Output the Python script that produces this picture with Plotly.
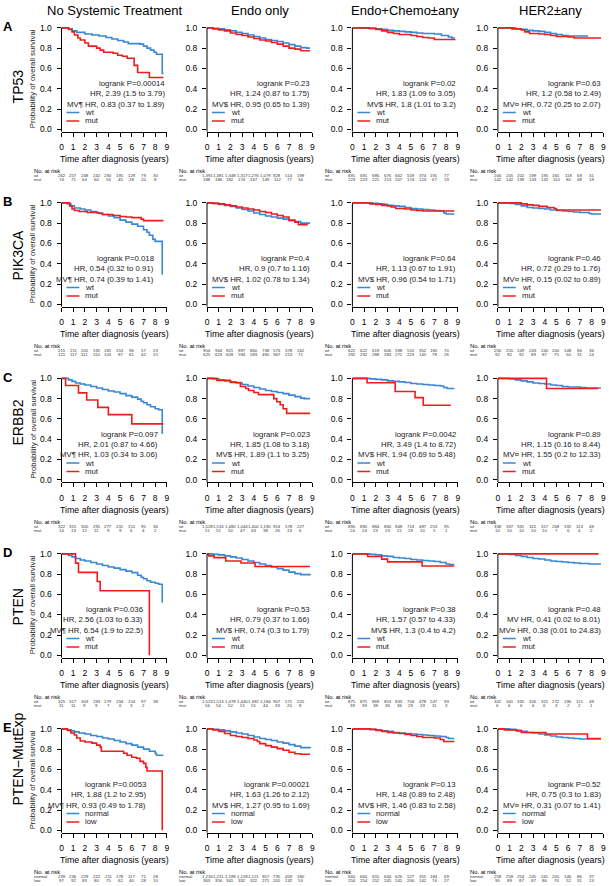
import plotly.graph_objects as go

FONT = "Liberation Sans, Arial, Helvetica, sans-serif"
BLUE = "#3a87d4"
RED = "#f01c1c"

COL_TITLES = ["No Systemic Treatment", "Endo only", "Endo+Chemo±any", "HER2±any"]
ROW_LABELS = ["TP53", "PIK3CA", "ERBB2", "PTEN", "PTEN−MutExp"]
PANEL_LETTERS = ["A", "B", "C", "D", "E"]
GROUP_NAMES = [["wt", "mut"], ["wt", "mut"], ["wt", "mut"], ["wt", "mut"], ["normal", "low"]]
X_TICKS = [0, 1, 2, 3, 4, 5, 6, 7, 8, 9]
Y_TICKS = [0.0, 0.2, 0.4, 0.6, 0.8, 1.0]
Y_TICK_TEXT = ["0.0", "0.2", "0.4", "0.6", "0.8", "1.0"]
RISK_TIMES = [0, 1, 2, 3, 4, 5, 6, 7, 8]

# ---------------- Kaplan-Meier curves (time, survival) ----------------
# Row A: TP53
A1_WT = [(0, 1), (0.6, 0.99), (0.9, 0.97), (1.3, 0.955), (2, 0.94), (2.6, 0.93), (3.2, 0.92), (3.8, 0.905),
         (4.3, 0.89), (4.8, 0.875), (5.3, 0.86), (5.7, 0.845), (6.7, 0.84), (7.0, 0.82), (7.3, 0.80), (7.6, 0.78),
         (7.9, 0.76), (8.1, 0.74), (8.6, 0.55), (8.7, 0.55)]
A1_MUT = [(0, 1), (0.6, 0.985), (0.9, 0.96), (1.1, 0.93), (1.4, 0.90), (1.6, 0.88), (2.0, 0.85), (2.3, 0.82),
          (3.0, 0.80), (3.3, 0.78), (3.6, 0.76), (4.4, 0.75), (4.8, 0.73), (5.2, 0.72), (5.6, 0.70), (6.2, 0.63),
          (6.5, 0.56), (7.5, 0.51), (8.7, 0.51)]
A2_WT = [(0, 1), (0.5, 0.995), (1, 0.99), (1.5, 0.98), (2, 0.97), (2.5, 0.955), (3, 0.945), (3.5, 0.93), (4, 0.915),
         (4.5, 0.90), (5, 0.885), (5.5, 0.875), (6, 0.865), (6.5, 0.85), (7, 0.835), (7.5, 0.82), (8, 0.805),
         (8.5, 0.80), (8.8, 0.80)]
A2_MUT = [(0, 1), (0.5, 0.99), (1, 0.98), (1.5, 0.97), (2, 0.95), (2.5, 0.935), (3, 0.925), (3.5, 0.91), (4, 0.895),
          (4.5, 0.88), (5, 0.87), (5.5, 0.855), (6, 0.84), (6.5, 0.82), (7, 0.80), (7.5, 0.79), (8, 0.775), (8.8, 0.775)]
A3_WT = [(0, 1), (1.5, 0.995), (2, 0.99), (2.5, 0.985), (3, 0.975), (3.5, 0.97), (4, 0.965), (4.5, 0.96),
         (5, 0.955), (5.5, 0.95), (6, 0.945), (7, 0.94), (7.6, 0.925), (8.2, 0.91), (8.5, 0.90), (8.75, 0.90)]
A3_MUT = [(0, 1), (1.4, 0.995), (2, 0.985), (2.5, 0.97), (3, 0.955), (3.5, 0.945), (4, 0.935), (5, 0.925),
          (5.5, 0.915), (6, 0.905), (6.5, 0.90), (7, 0.885), (8.8, 0.885)]
A4_WT = [(0, 1), (1.5, 0.99), (2, 0.985), (2.5, 0.975), (3, 0.97), (3.5, 0.965), (4, 0.955), (4.5, 0.945),
         (5, 0.935), (5.5, 0.925), (6, 0.92), (7.7, 0.92)]
A4_MUT = [(0, 1), (1.2, 0.99), (2, 0.98), (2.3, 0.96), (2.7, 0.945), (3.5, 0.94), (4, 0.935), (4.5, 0.925),
          (5, 0.915), (6, 0.91), (6.5, 0.90), (8.8, 0.90)]

# Row B: PIK3CA
B1_WT = [(0, 1), (0.5, 0.99), (0.8, 0.97), (1.1, 0.95), (1.6, 0.94), (2.0, 0.93), (2.5, 0.915), (3.0, 0.90),
         (3.5, 0.885), (4.0, 0.87), (4.5, 0.855), (5.0, 0.83), (5.5, 0.81), (6.0, 0.79), (6.5, 0.77), (7.0, 0.735),
         (7.3, 0.71), (7.5, 0.68), (7.8, 0.64), (8.0, 0.62), (8.6, 0.30), (8.65, 0.30)]
B1_MUT = [(0, 1), (0.7, 0.97), (0.9, 0.94), (1.1, 0.925), (1.5, 0.915), (2.2, 0.905), (3.2, 0.895), (3.5, 0.885),
          (4.4, 0.875), (5.0, 0.865), (5.5, 0.86), (6.0, 0.855), (6.8, 0.84), (7.0, 0.825), (8.7, 0.825)]
B2_WT = [(0, 1), (0.5, 0.995), (1, 0.985), (1.5, 0.975), (2, 0.965), (2.5, 0.95), (3, 0.935), (3.5, 0.92), (4, 0.90),
         (4.5, 0.885), (5, 0.87), (5.5, 0.86), (6, 0.85), (6.5, 0.84), (7, 0.825), (7.5, 0.815), (8, 0.80), (8.8, 0.80)]
B2_MUT = [(0, 1), (0.5, 0.995), (1, 0.99), (1.5, 0.98), (2, 0.97), (2.5, 0.96), (3, 0.95), (3.5, 0.94), (4, 0.93),
          (4.5, 0.915), (5, 0.905), (5.5, 0.89), (6, 0.875), (6.5, 0.86), (7, 0.83), (7.5, 0.81), (7.8, 0.785),
          (8.6, 0.785)]
B3_WT = [(0, 1), (1.7, 0.995), (2.2, 0.99), (2.7, 0.985), (3.0, 0.975), (3.5, 0.97), (4, 0.965), (4.5, 0.955),
         (5, 0.945), (5.5, 0.94), (6, 0.935), (6.5, 0.93), (7, 0.925), (7.5, 0.92), (7.8, 0.90), (8.0, 0.89), (8.7, 0.89)]
B3_MUT = [(0, 1), (1.5, 0.99), (2.0, 0.985), (2.5, 0.975), (3.0, 0.97), (3.3, 0.96), (3.7, 0.945), (4.5, 0.94),
          (5, 0.93), (5.5, 0.925), (6, 0.92), (8.7, 0.92)]
B4_WT = [(0, 1), (1.0, 0.995), (1.5, 0.985), (2, 0.97), (2.5, 0.955), (3, 0.95), (3.5, 0.945), (4, 0.94),
         (4.5, 0.93), (5, 0.925), (5.5, 0.92), (6, 0.915), (6.5, 0.91), (7, 0.905), (7.8, 0.895), (8.0, 0.89),
         (8.8, 0.89)]
B4_MUT = [(0, 1), (2, 0.99), (2.5, 0.98), (3, 0.975), (3.5, 0.965), (4.2, 0.955), (4.8, 0.945), (5.0, 0.93),
          (8.8, 0.93)]

# Row C: ERBB2
C1_WT = [(0, 1), (0.6, 0.985), (0.9, 0.97), (1.2, 0.955), (1.6, 0.945), (2, 0.935), (2.5, 0.92), (3, 0.905),
         (3.5, 0.89), (4, 0.875), (4.5, 0.865), (5, 0.85), (5.5, 0.83), (6, 0.815), (6.5, 0.795), (6.8, 0.775),
         (7, 0.76), (7.3, 0.74), (7.6, 0.72), (8, 0.70), (8.3, 0.69), (8.6, 0.46), (8.65, 0.46)]
C1_MUT = [(0, 1), (0.35, 0.929), (1.45, 0.857), (2.15, 0.786), (3.1, 0.714), (4.0, 0.643), (6.0, 0.551),
          (8.7, 0.551)]
C2_WT = [(0, 1), (0.5, 0.995), (1, 0.985), (1.5, 0.975), (2, 0.965), (2.5, 0.955), (3, 0.94), (3.5, 0.925),
         (4, 0.91), (4.5, 0.895), (5, 0.88), (5.5, 0.87), (6, 0.86), (6.5, 0.85), (7, 0.835), (7.5, 0.82),
         (8, 0.805), (8.3, 0.80), (8.8, 0.80)]
C2_MUT = [(0, 1), (0.85, 0.98), (2.0, 0.96), (2.85, 0.92), (3.3, 0.90), (3.55, 0.88), (4.0, 0.86), (4.4, 0.84),
          (5.7, 0.80), (5.95, 0.77), (6.25, 0.74), (6.5, 0.70), (6.8, 0.655), (8.8, 0.655)]
C3_WT = [(0, 1), (1.5, 0.995), (2, 0.99), (2.5, 0.985), (3, 0.975), (3.5, 0.97), (4, 0.965), (4.5, 0.96),
         (5, 0.95), (5.5, 0.945), (6, 0.94), (6.5, 0.935), (7, 0.93), (7.5, 0.925), (7.8, 0.91), (8.1, 0.90),
         (8.7, 0.90)]
C3_MUT = [(0, 1), (1.25, 0.957), (3.65, 0.87), (5.35, 0.81), (6.05, 0.735), (8.4, 0.735)]
C4_WT = [(0, 1), (1, 0.995), (1.5, 0.985), (2, 0.975), (2.5, 0.965), (3, 0.955), (3.5, 0.95), (4, 0.945),
         (4.5, 0.935), (5, 0.93), (5.5, 0.92), (6, 0.915), (7, 0.91), (7.5, 0.905), (8.8, 0.905)]
C4_MUT = [(0, 1), (4.15, 0.90), (8.55, 0.90)]

# Row D: PTEN
D1_WT = [(0, 1), (0.6, 0.985), (0.9, 0.97), (1.2, 0.955), (1.6, 0.94), (2, 0.93), (2.5, 0.915), (3, 0.90),
         (3.5, 0.885), (4, 0.87), (4.5, 0.86), (5, 0.845), (5.5, 0.83), (6, 0.815), (6.5, 0.79), (6.8, 0.77),
         (7, 0.755), (7.3, 0.735), (7.6, 0.72), (8, 0.71), (8.3, 0.70), (8.6, 0.525), (8.65, 0.525)]
D1_MUT = [(0, 1), (1.2, 0.909), (1.45, 0.818), (3.05, 0.727), (3.3, 0.636), (7.5, 0.0)]
D2_WT = [(0, 1), (0.5, 0.995), (1, 0.99), (1.5, 0.98), (2, 0.97), (2.5, 0.96), (3, 0.945), (3.5, 0.93),
         (4, 0.915), (4.5, 0.90), (5, 0.885), (5.5, 0.87), (6, 0.855), (6.5, 0.84), (7, 0.82), (7.5, 0.805),
         (8, 0.795), (8.8, 0.79)]
D2_MUT = [(0, 1), (0.15, 0.98), (0.6, 0.963), (1.6, 0.93), (2.9, 0.91), (4.1, 0.875), (8.8, 0.875)]
D3_WT = [(0, 1), (1.5, 0.995), (2, 0.99), (2.5, 0.98), (3, 0.975), (3.5, 0.965), (4, 0.96), (4.5, 0.955),
         (5, 0.945), (5.5, 0.94), (6, 0.935), (6.5, 0.93), (7, 0.925), (7.5, 0.915), (8, 0.90), (8.3, 0.895),
         (8.7, 0.895)]
D3_MUT = [(0, 1), (1.3, 0.974), (2.5, 0.948), (3.0, 0.921), (5.95, 0.88), (8.7, 0.88)]
D4_WT = [(0, 1), (1, 0.995), (1.5, 0.985), (2, 0.975), (2.5, 0.965), (3, 0.955), (3.5, 0.95), (4, 0.94),
         (4.5, 0.93), (5, 0.925), (5.5, 0.92), (6, 0.915), (6.5, 0.91), (7, 0.905), (7.8, 0.90), (8.8, 0.90)]
D4_MUT = [(0, 1), (8.6, 1.0)]

# Row E: PTEN-MutExp
E1_NORMAL = [(0, 1), (0.5, 0.99), (0.8, 0.98), (1.1, 0.97), (1.5, 0.96), (2, 0.95), (2.5, 0.935), (3, 0.925),
             (3.5, 0.91), (4, 0.90), (4.5, 0.885), (5, 0.87), (5.5, 0.855), (6, 0.84), (6.5, 0.82), (7, 0.80),
             (7.5, 0.78), (8.0, 0.76), (8.1, 0.74), (8.7, 0.74)]
E1_LOW = [(0, 1), (0.5, 0.985), (0.8, 0.96), (1.1, 0.94), (1.3, 0.91), (1.6, 0.88), (2.0, 0.87), (2.6, 0.86),
          (3.0, 0.84), (3.3, 0.82), (3.4, 0.78), (5.0, 0.78), (5.3, 0.76), (5.6, 0.74), (6.0, 0.72), (6.4, 0.71),
          (6.7, 0.68), (7.0, 0.66), (7.2, 0.62), (7.3, 0.585), (8.6, 0.0)]
E2_NORMAL = [(0, 1), (0.5, 0.995), (1, 0.99), (1.5, 0.98), (2, 0.97), (2.5, 0.96), (3, 0.95), (3.5, 0.935),
             (4, 0.92), (4.5, 0.905), (5, 0.895), (5.5, 0.885), (6, 0.87), (6.5, 0.86), (7, 0.845), (7.5, 0.83),
             (8, 0.815), (8.8, 0.81)]
E2_LOW = [(0, 1), (0.5, 0.99), (1, 0.975), (1.5, 0.955), (2, 0.935), (2.5, 0.925), (3, 0.915), (3.5, 0.905),
          (4, 0.89), (4.3, 0.875), (4.5, 0.855), (5, 0.835), (5.5, 0.82), (6, 0.805), (6.5, 0.79), (7, 0.77),
          (7.5, 0.755), (8, 0.75), (8.8, 0.75)]
E3_NORMAL = [(0, 1), (1.5, 0.995), (2, 0.99), (2.5, 0.98), (3, 0.975), (3.5, 0.965), (4, 0.96), (4.5, 0.955),
             (5, 0.95), (5.5, 0.945), (6, 0.94), (6.5, 0.935), (7, 0.93), (7.5, 0.925), (8, 0.915), (8.2, 0.905),
             (8.7, 0.905)]
E3_LOW = [(0, 1), (1.5, 0.995), (2, 0.985), (2.5, 0.975), (3, 0.965), (3.5, 0.96), (4, 0.955), (4.5, 0.945),
          (5, 0.935), (5.5, 0.925), (6, 0.915), (7, 0.91), (7.5, 0.895), (7.8, 0.875), (8.7, 0.875)]
E4_NORMAL = [(0, 1), (1, 0.995), (1.5, 0.985), (2, 0.975), (2.5, 0.965), (3, 0.96), (3.5, 0.95), (4, 0.94),
             (4.5, 0.93), (5, 0.92), (5.5, 0.915), (6, 0.91), (6.5, 0.905), (7, 0.90), (8.8, 0.90)]
E4_LOW = [(0, 1), (0.55, 0.99), (1.6, 0.98), (2.0, 0.965), (4.1, 0.95), (7.65, 0.905), (8.8, 0.905)]

# ---------------- Numbers at risk ----------------
A1_N = ([262, 257, 248, 242, 230, 195, 129, 79, 30], [74, 71, 64, 60, 56, 45, 28, 20, 8])
A2_N = ([1391, 1381, 1348, 1317, 1276, 1079, 828, 514, 199], [188, 186, 182, 174, 167, 149, 112, 77, 34])
A3_N = ([691, 691, 686, 676, 662, 559, 374, 191, 77], [223, 223, 221, 213, 207, 174, 123, 67, 19])
A4_N = ([206, 205, 202, 199, 195, 165, 118, 69, 31], [142, 142, 139, 133, 132, 110, 80, 48, 19])
B1_N = ([215, 211, 201, 192, 181, 153, 96, 57, 23], [121, 117, 111, 110, 105, 87, 61, 42, 15])
B2_N = ([954, 944, 921, 897, 860, 738, 573, 378, 162], [625, 623, 609, 594, 583, 490, 367, 213, 71])
B3_N = ([622, 622, 619, 606, 598, 510, 352, 180, 70], [292, 292, 288, 283, 271, 223, 145, 78, 26])
B4_N = ([256, 255, 249, 243, 240, 200, 148, 86, 36], [92, 92, 92, 89, 87, 75, 50, 31, 14])
C1_N = ([322, 315, 300, 291, 277, 231, 151, 95, 36], [14, 13, 12, 11, 9, 9, 6, 4, 2])
C2_N = ([1528, 1516, 1480, 1444, 1400, 1190, 914, 578, 227], [51, 51, 50, 47, 43, 38, 26, 13, 6])
C3_N = ([890, 890, 884, 866, 848, 714, 487, 253, 95], [24, 24, 23, 23, 21, 19, 10, 5, 1])
C4_N = ([338, 337, 331, 322, 317, 268, 192, 113, 48], [10, 10, 10, 10, 10, 7, 6, 4, 2])
D1_N = ([325, 317, 303, 293, 279, 234, 154, 97, 38], [11, 11, 9, 9, 7, 6, 3, 2])
D2_N = ([1523, 1513, 1478, 1440, 1392, 1184, 907, 571, 225], [56, 54, 52, 51, 51, 44, 33, 20, 8])
D3_N = ([875, 875, 869, 853, 833, 704, 478, 247, 93], [39, 39, 38, 36, 36, 29, 19, 11, 3])
D4_N = ([342, 341, 335, 326, 321, 272, 196, 115, 49], [6, 6, 6, 6, 6, 3, 2, 2, 1])
E1_N = ([239, 236, 229, 222, 211, 178, 117, 71, 28], [97, 92, 83, 80, 75, 62, 40, 28, 10])
E2_N = ([1216, 1211, 1189, 1159, 1121, 957, 735, 459, 180], [363, 356, 341, 332, 322, 271, 205, 132, 53])
E3_N = ([660, 660, 655, 644, 626, 527, 355, 184, 69], [254, 254, 252, 245, 241, 206, 142, 74, 27])
E4_N = ([258, 258, 254, 245, 241, 205, 146, 86, 37], [90, 89, 87, 87, 86, 70, 52, 31, 13])

# ---------------- Statistics text ----------------
A_STATS = [["logrank P=0.00014", "HR, 2.39 (1.5 to 3.79)", "MV¶ HR, 0.83 (0.37 to 1.89)"],
           ["logrank P=0.23", "HR, 1.24 (0.87 to 1.75)", "MV$ HR, 0.95 (0.65 to 1.39)"],
           ["logrank P=0.02", "HR, 1.83 (1.09 to 3.05)", "MV$ HR, 1.8 (1.01 to 3.2)"],
           ["logrank P=0.63", "HR, 1.2 (0.58 to 2.49)", "MV¤ HR, 0.72 (0.25 to 2.07)"]]
B_STATS = [["logrank P=0.018", "HR, 0.54 (0.32 to 0.91)", "MV¶ HR, 0.74 (0.39 to 1.41)"],
           ["logrank P=0.4", "HR, 0.9 (0.7 to 1.16)", "MV$ HR, 1.02 (0.78 to 1.34)"],
           ["logrank P=0.64", "HR, 1.13 (0.67 to 1.91)", "MV$ HR, 0.96 (0.54 to 1.71)"],
           ["logrank P=0.46", "HR, 0.72 (0.29 to 1.76)", "MV¤ HR, 0.15 (0.02 to 0.89)"]]
C_STATS = [["logrank P=0.097", "HR, 2.01 (0.87 to 4.66)", "MV¶ HR, 1.03 (0.34 to 3.06)"],
           ["logrank P=0.023", "HR, 1.85 (1.08 to 3.18)", "MV$ HR, 1.89 (1.1 to 3.25)"],
           ["logrank P=0.0042", "HR, 3.49 (1.4 to 8.72)", "MV$ HR, 1.94 (0.69 to 5.48)"],
           ["logrank P=0.89", "HR, 1.15 (0.16 to 8.44)", "MV¤ HR, 1.55 (0.2 to 12.33)"]]
D_STATS = [["logrank P=0.036", "HR, 2.56 (1.03 to 6.33)", "MV¶ HR, 6.54 (1.9 to 22.5)"],
           ["logrank P=0.53", "HR, 0.79 (0.37 to 1.66)", "MV$ HR, 0.74 (0.3 to 1.79)"],
           ["logrank P=0.38", "HR, 1.57 (0.57 to 4.33)", "MV$ HR, 1.3 (0.4 to 4.2)"],
           ["logrank P=0.48", "MV HR, 0.41 (0.02 to 8.01)", "MV¤ HR, 0.38 (0.01 to 24.83)"]]
E_STATS = [["logrank P=0.0053", "HR, 1.88 (1.2 to 2.95)", "MV¶ HR, 0.93 (0.49 to 1.78)"],
           ["logrank P=0.00021", "HR, 1.63 (1.26 to 2.12)", "MV$ HR, 1.27 (0.95 to 1.69)"],
           ["logrank P=0.13", "HR, 1.48 (0.89 to 2.48)", "MV$ HR, 1.46 (0.83 to 2.58)"],
           ["logrank P=0.52", "HR, 0.75 (0.3 to 1.83)", "MV¤ HR, 0.31 (0.07 to 1.41)"]]

CURVES = [[(A1_WT, A1_MUT), (A2_WT, A2_MUT), (A3_WT, A3_MUT), (A4_WT, A4_MUT)],
          [(B1_WT, B1_MUT), (B2_WT, B2_MUT), (B3_WT, B3_MUT), (B4_WT, B4_MUT)],
          [(C1_WT, C1_MUT), (C2_WT, C2_MUT), (C3_WT, C3_MUT), (C4_WT, C4_MUT)],
          [(D1_WT, D1_MUT), (D2_WT, D2_MUT), (D3_WT, D3_MUT), (D4_WT, D4_MUT)],
          [(E1_NORMAL, E1_LOW), (E2_NORMAL, E2_LOW), (E3_NORMAL, E3_LOW), (E4_NORMAL, E4_LOW)]]
RISK = [[A1_N, A2_N, A3_N, A4_N], [B1_N, B2_N, B3_N, B4_N], [C1_N, C2_N, C3_N, C4_N],
        [D1_N, D2_N, D3_N, D4_N], [E1_N, E2_N, E3_N, E4_N]]
STATS = [A_STATS, B_STATS, C_STATS, D_STATS, E_STATS]

# ---------------- Layout geometry (pixels) ----------------
W, H = 609, 886
COL_LEFT = [60, 206.7, 353.3, 500]
PW = 106.3
ROW_TOP = [25, 201, 377.5, 554, 730]
PH = 102
Y_LO, Y_HI = -0.025, 1.02
STAT_RIGHT_COL1 = [9.0, 8.1, 8.4, 7.1, 7.4]
ROW_LABEL_Y = [84, 254, 422, 607, 760]


def py(px):
    return 1 - px / H


def pxx(px):
    return px / W


fig = go.Figure()
layout = {}
annotations = []
shapes = []

for r in range(5):
    for c in range(4):
        k = r * 4 + c + 1
        xa = "x" if k == 1 else f"x{k}"
        ya = "y" if k == 1 else f"y{k}"
        top_px = ROW_TOP[r] - PH * (Y_HI - 1)
        bot_px = ROW_TOP[r] + PH * (1 - Y_LO)
        layout["xaxis" if k == 1 else f"xaxis{k}"] = dict(
            domain=[pxx(COL_LEFT[c]), pxx(COL_LEFT[c] + PW)], range=[0, 9], anchor=ya, showline=True,
            linecolor="black", linewidth=1, ticks="outside", ticklen=4, tickwidth=1, tickcolor="black",
            tickvals=X_TICKS, tickfont=dict(size=8.5, color="black", family=FONT), showgrid=False,
            zeroline=False, ticklabelstandoff=3, fixedrange=True)
        layout["yaxis" if k == 1 else f"yaxis{k}"] = dict(
            domain=[py(bot_px), py(top_px)], range=[Y_LO, Y_HI], anchor=xa, showline=False,
            ticks="outside", ticklen=4, tickwidth=1, tickcolor="black", tickvals=Y_TICKS,
            ticktext=Y_TICK_TEXT, tickfont=dict(size=8.5, color="black", family=FONT), showgrid=False,
            zeroline=False, ticklabelstandoff=3, fixedrange=True)
        # y axis line from bottom up to 1.0
        shapes.append(dict(type="line", xref=f"{xa} domain", yref=ya, x0=0, x1=0, y0=Y_LO, y1=1.0,
                           line=dict(color="black", width=1)))

        wt, mut = CURVES[r][c]
        for pts, col in ((wt, BLUE), (mut, RED)):
            fig.add_trace(go.Scatter(x=[p[0] for p in pts], y=[p[1] for p in pts], mode="lines",
                                     line=dict(color=col, width=1.6, shape="hv"), xaxis=xa, yaxis=ya,
                                     hoverinfo="skip", showlegend=False))

        # stats text
        sx = STAT_RIGHT_COL1[r] if c == 0 else 9.0
        for txt, yy in zip(STATS[r][c], (0.45, 0.35, 0.248)):
            annotations.append(dict(text=txt, xref=xa, yref=ya, x=sx, y=yy, xanchor="right", yanchor="middle",
                                    showarrow=False, font=dict(size=7.8, color="#222", family=FONT)))
        # legend
        for name, col, yy in ((GROUP_NAMES[r][0], BLUE, 0.165), (GROUP_NAMES[r][1], RED, 0.082)):
            shapes.append(dict(type="line", xref=f"{xa} domain", yref=ya, x0=5 / PW, x1=18 / PW, y0=yy, y1=yy,
                               line=dict(color=col, width=1.6)))
            annotations.append(dict(text=name, xref=f"{xa} domain", yref=ya, x=22 / PW, y=yy, xanchor="left",
                                    yanchor="middle", showarrow=False,
                                    font=dict(size=7.8, color="#222", family=FONT)))
        # x axis title
        annotations.append(dict(text="Time after diagnosis (years)", xref="paper", yref="paper",
                                x=pxx(COL_LEFT[c] + PW / 2), y=py(ROW_TOP[r] + 132), xanchor="center",
                                yanchor="middle", showarrow=False, font=dict(size=8.8, color="black", family=FONT)))
        # risk table
        annotations.append(dict(text="No. at risk", xref="paper", yref="paper", x=pxx(COL_LEFT[c] - 30),
                                y=py(ROW_TOP[r] + 144.0), xanchor="left", yanchor="middle", showarrow=False,
                                font=dict(size=5.8, color="black", family=FONT)))
        nwt, nmut = RISK[r][c]
        for name, nums, off in ((GROUP_NAMES[r][0], nwt, 148.8), (GROUP_NAMES[r][1], nmut, 152.9)):
            yy = py(ROW_TOP[r] + off)
            annotations.append(dict(text=name, xref="paper", yref="paper", x=pxx(COL_LEFT[c] - 30), y=yy,
                                    xanchor="left", yanchor="middle", showarrow=False,
                                    font=dict(size=4.3, color="#333", family=FONT)))
            for t, n in zip(RISK_TIMES, nums):
                annotations.append(dict(text=f"{n:,}", xref=xa, yref="paper", x=t, y=yy, xanchor="center",
                                        yanchor="middle", showarrow=False,
                                        font=dict(size=4.3, color="#333", family=FONT)))
        # y-axis title (first column only)
        if c == 0:
            annotations.append(dict(text="Probability of overall survival", xref="paper", yref="paper",
                                    x=pxx(31), y=py(ROW_TOP[r] + PH / 2), xanchor="center", yanchor="middle",
                                    textangle=-90, showarrow=False, font=dict(size=7.8, color="#222", family=FONT)))

# column titles
for c, t in enumerate(COL_TITLES):
    annotations.append(dict(text=t, xref="paper", yref="paper", x=pxx(COL_LEFT[c] + PW / 2), y=py(7.5),
                            xanchor="center", yanchor="middle", showarrow=False,
                            font=dict(size=13, color="black", family=FONT)))
# row labels and panel letters
for r in range(5):
    annotations.append(dict(text=ROW_LABELS[r], xref="paper", yref="paper", x=pxx(16), y=py(ROW_LABEL_Y[r]),
                            xanchor="center", yanchor="middle", textangle=-90, showarrow=False,
                            font=dict(size=14, color="black", family=FONT)))
    annotations.append(dict(text="<b>" + PANEL_LETTERS[r] + "</b>", xref="paper", yref="paper", x=pxx(6),
                            y=py(ROW_TOP[r] - 1), xanchor="center", yanchor="middle", showarrow=False,
                            font=dict(size=13, color="black", family=FONT)))

fig.update_layout(width=W, height=H, margin=dict(l=0, r=0, t=0, b=0), paper_bgcolor="white",
                  plot_bgcolor="white", showlegend=False, annotations=annotations, shapes=shapes,
                  font=dict(family=FONT), **layout)
fig.write_html("out.html", config={"displayModeBar": False, "staticPlot": True},
               post_script="document.body.style.margin='0px';document.body.style.padding='0px';")
